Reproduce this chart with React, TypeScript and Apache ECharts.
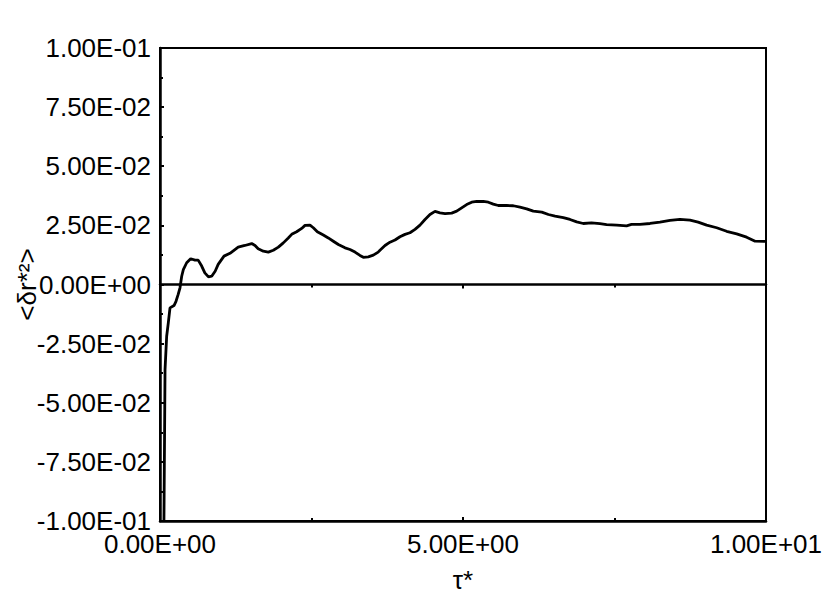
import React, { useEffect, useRef } from "react";
import * as echarts from "echarts";

const tau: number[] = [
  0.065, 0.083, 0.11, 0.137, 0.165, 0.231, 0.264, 0.3, 0.33, 0.358, 0.385, 0.44, 0.506, 0.578, 0.63,
  0.688, 0.74, 0.8, 0.853, 0.91, 0.96, 1.056, 1.155, 1.29, 1.4, 1.513, 1.568, 1.62, 1.705, 1.787,
  1.87, 1.953, 2.035, 2.117, 2.173, 2.255, 2.338, 2.393, 2.475, 2.53, 2.596, 2.695, 2.777, 2.86,
  2.943, 3.053, 3.135, 3.218, 3.3, 3.355, 3.437, 3.52, 3.6, 3.63, 3.713, 3.795, 3.878, 3.96, 4.043,
  4.125, 4.208, 4.29, 4.373, 4.455, 4.538, 4.62, 4.703, 4.813, 4.896, 4.978, 5.06, 5.143, 5.226,
  5.335, 5.418, 5.5, 5.583, 5.72, 5.83, 5.94, 6.05, 6.16, 6.3, 6.41, 6.52, 6.655, 6.766, 6.876,
  6.985, 7.12, 7.26, 7.37, 7.536, 7.7, 7.78, 7.92, 8.086, 8.25, 8.416, 8.58, 8.746, 8.88, 9.02,
  9.186, 9.35, 9.516, 9.68, 9.82, 9.985,
];

const dr2: number[] = [
  -0.1, -0.036, -0.0219, -0.0162, -0.0099, -0.0089, -0.0071, -0.0042, -0.0014, 0.0035, 0.0063,
  0.0092, 0.0109, 0.0103, 0.0103, 0.0078, 0.0049, 0.0032, 0.0035, 0.0056, 0.0085, 0.012, 0.0132,
  0.0158, 0.0165, 0.0173, 0.0165, 0.0151, 0.0141, 0.0137, 0.0145, 0.0158, 0.0176, 0.0197, 0.0212,
  0.0223, 0.0237, 0.025, 0.0251, 0.024, 0.0223, 0.0209, 0.0197, 0.0183, 0.0169, 0.0155, 0.0148,
  0.0137, 0.0123, 0.0115, 0.0117, 0.0124, 0.0137, 0.0145, 0.0165, 0.0179, 0.0188, 0.0202, 0.0212,
  0.0219, 0.0233, 0.0251, 0.0275, 0.0296, 0.0309, 0.0303, 0.03, 0.0302, 0.031, 0.0324, 0.0338,
  0.0348, 0.0351, 0.0351, 0.0348, 0.034, 0.0334, 0.0334, 0.0333, 0.0327, 0.032, 0.031, 0.0306,
  0.0296, 0.0289, 0.0283, 0.0275, 0.0265, 0.0258, 0.0261, 0.0257, 0.0253, 0.0251, 0.0248, 0.0254,
  0.0254, 0.0258, 0.0264, 0.0271, 0.0275, 0.0272, 0.0264, 0.0251, 0.024, 0.0225, 0.0214, 0.02,
  0.0183, 0.0182,
];

const xName = "τ*";
const yName = "<δr*²>";

function sci(v: number): string {
  if (Math.abs(v) < 1e-12) return "0.00E+00";
  const s = v.toExponential(2);
  const [m, e] = s.split("e");
  const n = parseInt(e, 10);
  const sign = n < 0 ? "-" : "+";
  const abs = Math.abs(n);
  return `${m}E${sign}${abs < 10 ? "0" + abs : abs}`;
}

const FONT = "Liberation Sans, Arial, sans-serif";
const FS = 26;

export default function App() {
  const ref = useRef<HTMLDivElement>(null);
  useEffect(() => {
    if (!ref.current) return;
    const chart = echarts.init(ref.current, null, { renderer: "svg" });
    const data = tau.map((t, i) => [t, dr2[i]]);
    chart.setOption({
      animation: false,
      backgroundColor: "#fff",
      textStyle: { fontFamily: FONT },
      grid: {
        left: 160,
        right: 74,
        top: 48,
        bottom: 74,
        containLabel: false,
        outerBoundsMode: "none",
        show: true,
        borderColor: "#000",
        borderWidth: 2,
        backgroundColor: "transparent",
      },
      xAxis: [
        {
          type: "value",
          position: "bottom",
          min: 0,
          max: 10,
          interval: 5,
          name: xName,
          nameLocation: "middle",
          nameGap: 46,
          nameMoveOverlap: false,
          nameTextStyle: { color: "#000", fontSize: FS, fontFamily: FONT },
          axisLine: { onZero: false, lineStyle: { color: "#000", width: 2.5 } },
          axisTick: { show: true, inside: true, length: 4, lineStyle: { color: "#000", width: 2 } },
          minorTick: { show: true, splitNumber: 2, length: 3, lineStyle: { color: "#000", width: 2 } },
          axisLabel: {
            color: "#000",
            fontSize: FS,
            fontFamily: FONT,
            margin: 10,
            formatter: (v: number) => sci(v),
          },
          splitLine: { show: false },
        },
        {
          type: "value",
          position: "top",
          min: 0,
          max: 10,
          interval: 5,
          axisLine: { onZero: true, lineStyle: { color: "#000", width: 2.5 } },
          axisTick: { show: true, inside: true, length: 4, lineStyle: { color: "#000", width: 2 } },
          minorTick: { show: true, splitNumber: 2, length: 3, lineStyle: { color: "#000", width: 2 } },
          axisLabel: { show: false },
          splitLine: { show: false },
        },
      ],
      yAxis: {
        type: "value",
        min: -0.1,
        max: 0.1,
        interval: 0.025,
        name: yName,
        nameLocation: "middle",
        nameGap: 120,
        nameMoveOverlap: false,
        nameRotate: 90,
        nameTextStyle: { color: "#000", fontSize: FS, fontFamily: FONT },
        axisLine: { onZero: false, lineStyle: { color: "#000", width: 2.5 } },
        axisTick: { show: true, inside: true, length: 4, lineStyle: { color: "#000", width: 2 } },
        minorTick: { show: true, splitNumber: 2, length: 3, lineStyle: { color: "#000", width: 2 } },
        axisLabel: {
          color: "#000",
          fontSize: FS,
          fontFamily: FONT,
          margin: 9,
          formatter: (v: number) => sci(v),
        },
        splitLine: { show: false },
      },
      series: [
        {
          type: "line",
          data,
          xAxisIndex: 0,
          yAxisIndex: 0,
          showSymbol: false,
          symbol: "none",
          clip: true,
          lineStyle: { color: "#000", width: 2.8 },
        },
      ],
    });
    return () => chart.dispose();
  }, []);
  return (
    <div
      ref={ref}
      style={{ position: "fixed", left: 0, top: 0, width: 840, height: 595 }}
    />
  );
}
